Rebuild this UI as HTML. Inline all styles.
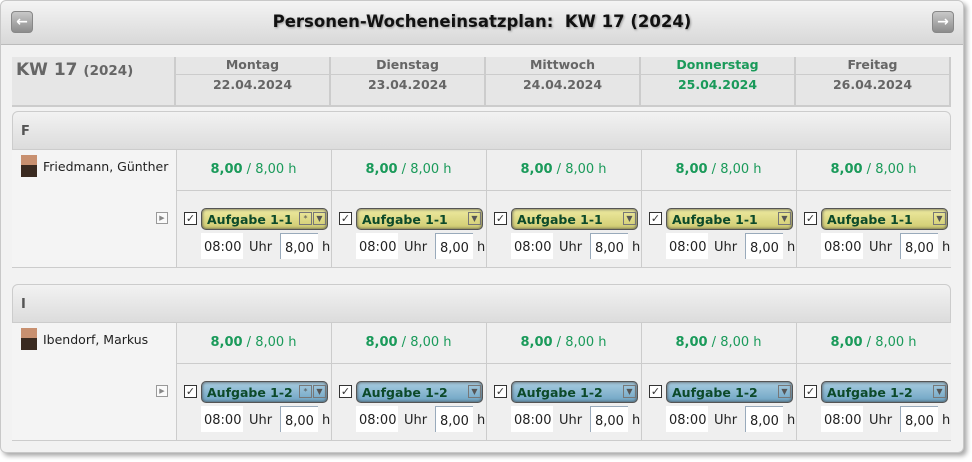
<!DOCTYPE html>
<html><head><meta charset="utf-8">
<style>
*{box-sizing:border-box;margin:0;padding:0}
body{width:972px;height:462px;background:#fff;font-family:"DejaVu Sans","Liberation Sans",sans-serif;position:relative;overflow:hidden;color:#333}
.a{position:absolute}
#panel{left:0;top:0;width:964px;height:453px;border:1px solid #c8c8c8;border-radius:6px;background:#f2f2f2;box-shadow:3px 3px 5px #aaa}
#hdr{left:1px;top:1px;width:962px;height:44px;border-radius:6px 6px 0 0;background:linear-gradient(#f4f4f4,#d8d8d8);border-bottom:1px solid #bbb}
.nav{width:22px;height:22px;border-radius:4px;background:linear-gradient(#c8c8c8,#8c8c8c);border:1px solid #888;color:#fff;font-size:14px;text-align:center;line-height:20px;font-weight:bold}
.hc{background:#e6e6e6;border-right:2px solid #ccc;border-bottom:2px solid #ccc}
.day{font-weight:bold;font-size:12.5px;color:#666;text-align:center}
.grp{background:linear-gradient(#f2f2f2,#dcdcdc);border:1px solid #ccc;border-radius:6px 6px 0 0;font-weight:bold;font-size:13px;color:#555}
.cell{background:#efefef;border-left:1px solid #ccc;border-bottom:1px solid #ccc}
.hrs{font-size:13px;color:#1a9a5a;text-align:center}
.task{height:22px;border-radius:5px;font-weight:bold;font-size:12.5px;color:#0c4a2a;padding:3px 0 0 5px}
.cb{width:13px;height:13px;border:1px solid #333;background:#fff;font-size:11px;line-height:11px;text-align:center}
.inp{background:#fff;font-size:13px;color:#222;padding-top:7px}
.sb{width:13px;height:13px;border:1px solid #777;font-size:8px;text-align:center;line-height:11px;color:#555}
</style></head><body>
<div class="a" id="panel"></div>
<div class="a" id="hdr"></div>
<div class="a nav" style="left:11px;top:11px">&#8592;</div>
<div class="a nav" style="left:932px;top:11px">&#8594;</div>
<div class="a" style="left:0;width:964px;top:12px;text-align:center;font-weight:bold;font-size:16.5px;color:#111;text-shadow:1px 1px 2px #999">Personen-Wocheneinsatzplan:&nbsp; KW 17 (2024)</div>
<div class="a hc" style="left:12px;top:57px;width:164px;height:50px;padding:3px 0 0 4px;font-weight:bold;color:#666;font-size:17px">KW 17 <span style="font-size:13.5px">(2024)</span></div>
<div id="root"></div>
<script>
const days=["Montag","Dienstag","Mittwoch","Donnerstag","Freitag"];
const dates=["22.04.2024","23.04.2024","24.04.2024","25.04.2024","26.04.2024"];
const persons=["Friedmann, Günther","Ibendorf, Markus"];
const groups=["F","I"];
const tasks=["Aufgabe 1-1","Aufgabe 1-2"];
const taskColors=["linear-gradient(#eeeaa0,#cfcb70)","linear-gradient(#a8cce0,#6ea4c4)"];
const root=document.getElementById('root');
function mk(cls,style,html,name,inter){const d=document.createElement('div');d.className='a '+cls;d.style.cssText=style;d.innerHTML=html;


root.appendChild(d);return d;}
days.forEach((dn,i)=>{const x=176+i*155;const today=i===3;const c=today?'#1a9a5a':'#666';
mk('hc',`left:${x}px;top:57px;width:155px;height:50px`,'','day-header-cell','false');
mk('day',`left:${x}px;top:57px;width:153px;color:${c};height:18px;border-bottom:1px solid #ccc`,dn,'day-name','false');
mk('day',`left:${x}px;top:77px;width:153px;color:${c}`,dates[i],'day-date','false');});
persons.forEach((p,g)=>{const y0=111+g*173;
mk('grp',`left:12px;top:${y0}px;width:939px;height:39px;padding:12px 0 0 8px`,groups[g],'group-header','false');
mk('',`left:12px;top:${y0+39}px;width:164px;height:118px;background:#f4f4f4;border-bottom:1px solid #ccc`,'','person-cell','false');
mk('',`left:21px;top:${y0+44}px;width:16px;height:22px;background:linear-gradient(#c89070 0,#c89070 45%,#3a2a20 46%)`,'','person-photo','false');
mk('',`left:43px;top:${y0+48}px;font-size:12.5px;color:#222`,p,'person-name','false');
mk('',`left:156px;top:${y0+101}px;width:12px;height:12px;border:1px solid #999;background:#fafafa;font-size:7px;color:#888;text-align:center;line-height:10px`,'&#9654;','expand-button','true');
days.forEach((d,i)=>{const x=176+i*155;
mk('cell',`left:${x}px;top:${y0+39}px;width:155px;height:41px`,'','hours-cell','false');
mk('hrs',`left:${x}px;top:${y0+51}px;width:155px`,'<b>8,00</b> / 8,00 h','hours-summary','false');
mk('cell',`left:${x}px;top:${y0+80}px;width:155px;height:77px`,'','task-cell','false');
mk('cb',`left:${x+8}px;top:${y0+101}px`,'&#10003;','task-checkbox','true');
mk('task',`left:${x+25}px;top:${y0+97}px;width:127px;background:${taskColors[g]};border:1px solid #555;box-shadow:inset 0 0 3px #444`,tasks[g],'task-select','true');
if(i===0) mk('sb',`left:${x+123}px;top:${y0+101}px`,'*','task-star','true');
mk('sb',`left:${x+137}px;top:${y0+101}px`,'&#9660;','task-dropdown','true');
mk('inp',`left:${x+25}px;top:${y0+122}px;width:42px;height:26px;padding-left:3px`,'08:00','start-time-input','true');
mk('',`left:${x+73}px;top:${y0+129}px;font-size:13px;color:#222`,'Uhr','uhr-label','false');
mk('inp',`left:${x+104}px;top:${y0+122}px;width:38px;height:26px;border-left:1px solid #9ab;border-top:1px solid #9ab;padding-left:4px`,'8,00','duration-input','true');
mk('',`left:${x+146}px;top:${y0+129}px;font-size:13px;color:#222`,'h','hours-unit','false');
});});
</script>
</body></html>
